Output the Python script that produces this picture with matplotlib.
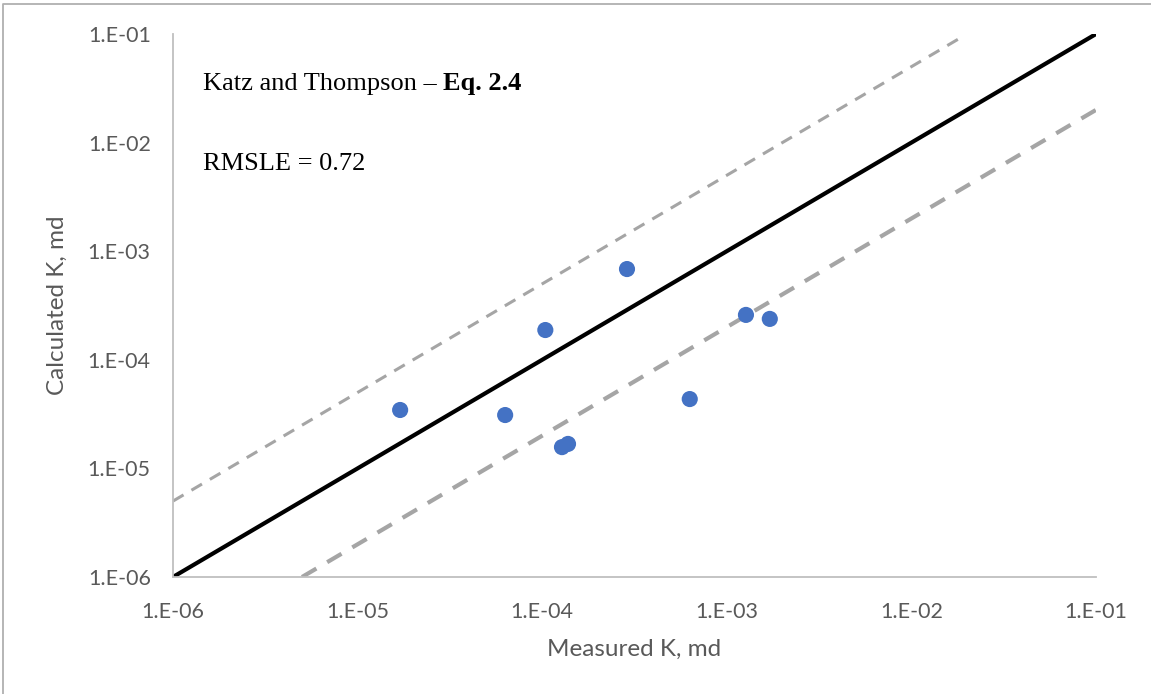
import numpy as np
import matplotlib.pyplot as plt
from matplotlib.lines import Line2D

# 測定値と計算値 (md)
measured = [1.7e-5, 6.3e-5, 1.04e-4, 1.28e-4, 1.38e-4, 2.88e-4, 6.3e-4, 1.27e-3, 1.71e-3]
calculated = [3.45e-5, 3.1e-5, 1.88e-4, 1.57e-5, 1.68e-5, 6.85e-4, 4.35e-5, 2.59e-4, 2.38e-4]

# 1:1 線と ×5, ÷5 線
line_x = [1e-6, 1e-1]
upper_x = [1e-6, 1.85e-2]
lower_x = [5e-6, 1e-1]
factor = 5

ticks = [1e-6, 1e-5, 1e-4, 1e-3, 1e-2, 1e-1]
tick_labels = ['1.E-06', '1.E-05', '1.E-04', '1.E-03', '1.E-02', '1.E-01']

plt.rcParams['font.family'] = ['Lato', 'DejaVu Sans']

fig = plt.figure(figsize=(11.51, 6.94), dpi=100)
ax = fig.add_axes([0.1503, 0.1686, 0.8019, 0.7824])

ax.plot(line_x, line_x, color='black', lw=3, solid_capstyle='butt')
ax.plot(upper_x, [v*factor for v in upper_x], color='#a5a5a5', lw=2.2, ls=(0, (4, 3)))
ax.plot(lower_x, [v/factor for v in lower_x], color='#a5a5a5', lw=3, ls=(0, (4, 3)))
ax.scatter(measured, calculated, s=135, color='#4472c4', zorder=3, edgecolors='none')

ax.set_xscale('log')
ax.set_yscale('log')
ax.set_xlim(1e-6, 1e-1)
ax.set_ylim(1e-6, 1e-1)
ax.set_xticks(ticks)
ax.set_xticklabels(tick_labels)
ax.set_yticks(ticks)
ax.set_yticklabels(tick_labels)
ax.minorticks_off()
ax.tick_params(length=0, labelsize=15.5, colors='#595959')
ax.tick_params(axis='x', pad=18)
ax.tick_params(axis='y', pad=16)

for s in ['top', 'right']:
    ax.spines[s].set_visible(False)
for s in ['left', 'bottom']:
    ax.spines[s].set_color('#bfbfbf')
    ax.spines[s].set_linewidth(1.3)

ax.set_xlabel('Measured K, md', fontsize=17.5, color='#595959', labelpad=12)
ax.set_ylabel('Calculated K, md', fontsize=17.5, color='#595959', labelpad=14)

fs = 19
ax.text(0.0325, 0.897, 'Katz and Thompson – ', transform=ax.transAxes,
        fontsize=fs, family='Liberation Serif', va='baseline')
t = ax.text(0.0325, 0.897, 'Katz and Thompson – ', transform=ax.transAxes,
            fontsize=fs, family='Liberation Serif', va='baseline', alpha=0)
fig.canvas.draw()
bb = t.get_window_extent().transformed(ax.transAxes.inverted())
ax.text(bb.x1, 0.897, 'Eq. 2.4', transform=ax.transAxes, fontsize=fs,
        family='Liberation Serif', weight='bold', va='baseline')
ax.text(0.0325, 0.75, 'RMSLE = 0.72', transform=ax.transAxes,
        fontsize=fs, family='Liberation Serif', va='baseline')

# 枠線 (左と上のみ)
fig.lines.append(Line2D([0.003, 0.003, 1.0], [0.0, 0.994, 0.994], transform=fig.transFigure,
                        color='#b0b0b0', lw=1.3))

fig.savefig('out.png', dpi=100)
